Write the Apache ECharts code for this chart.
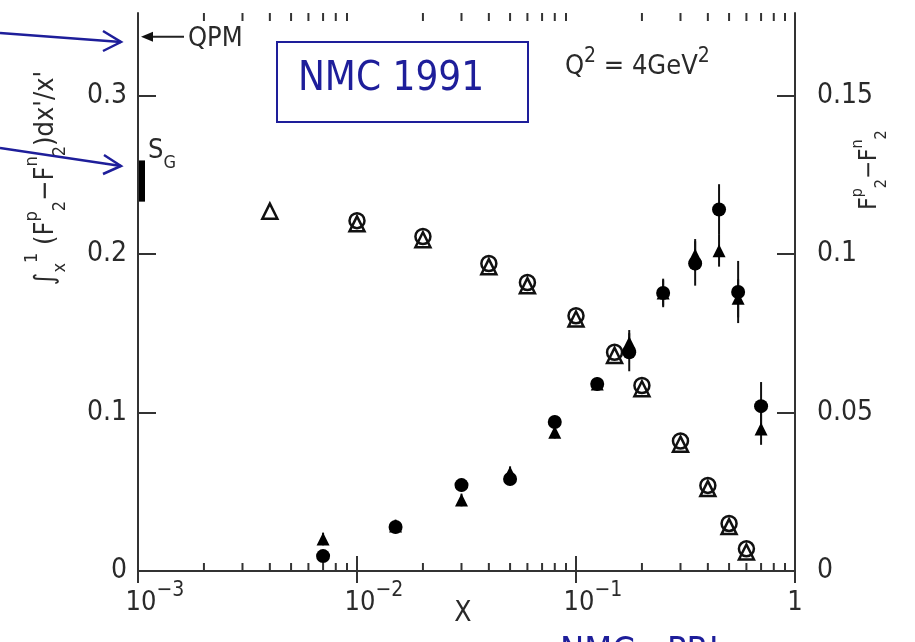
<!DOCTYPE html>
<html><head><meta charset="utf-8">
<script src="https://cdn.jsdelivr.net/npm/echarts@6/dist/echarts.min.js"></script>
<style>html,body{margin:0;padding:0;background:#fff}#c{width:915px;height:642px}</style>
</head><body><div id="c"></div>
<script>
// ---- data ----
// integral of (F2p-F2n)/x' from x to 1 (left axis), at bin edges
const xEdges = [0.004, 0.01, 0.02, 0.04, 0.06, 0.1, 0.15, 0.2, 0.3, 0.4, 0.5, 0.6];
const integralCircle = [null, 0.221, 0.211, 0.194, 0.182, 0.161, 0.138, 0.117, 0.082, 0.054, 0.030, 0.014];
const integralTriangle = [0.227, 0.219, 0.209, 0.192, 0.180, 0.159, 0.136, 0.115, 0.080, 0.052, 0.028, 0.012];
// F2p - F2n (right axis), at bin centres
const xCenters = [0.007, 0.015, 0.03, 0.05, 0.08, 0.125, 0.175, 0.25, 0.35, 0.45, 0.55, 0.7];
const diffCircle = [0.0047, 0.0139, 0.0271, 0.0290, 0.0470, 0.0590, 0.0690, 0.0877, 0.0970, 0.1140, 0.0880, 0.0520];
const diffCircleErr = [0.0020, 0.0020, 0.0020, 0.0020, 0.0020, 0.0020, 0.0060, 0.0045, 0.0070, 0.0080, 0.0098, 0.0076];
const diffTriangle = [0.0101, 0.0142, 0.0224, 0.0310, 0.0438, 0.0590, 0.0720, 0.0877, 0.0997, 0.1010, 0.0860, 0.0448];
const diffTriangleErr = [0.0020, 0.0020, 0.0020, 0.0020, 0.0020, 0.0020, 0.0040, 0.0040, 0.0050, 0.0050, 0.0060, 0.0050];
// axes
const xTickLabels = {'-3': '{b|10}{s|−3}', '-2': '{b|10}{s|−2}', '-1': '{b|10}{s|−1}', '0': '{c|1}'};
const leftTicks = [0, 0.1, 0.2, 0.3];
const rightTicks = [0, 0.05, 0.1, 0.15];
const leftMax = 0.352, rightMax = 0.176;
// reference marks on the left axis
const qpmValue = 0.337;
const sgValue = 0.246, sgErr = 0.013;

const SCAN = "'Liberation Sans Narrow', 'DejaVu Sans Condensed', 'Liberation Sans', sans-serif";
const INK = '#2a2a2a';
const BLUE = '#1e1e9a';

const minorTicks = [];
for (let e = -3; e < 0; e++) for (let k = 2; k <= 9; k++) minorTicks.push([k * Math.pow(10, e)]);

const zip = (xs, ys) => xs.map((x, i) => [x, ys[i]]).filter(d => d[1] != null);
const zipErr = (xs, ys, es) => xs.map((x, i) => [x, ys[i], es[i]]);

function errRender(params, api) {
  const x = api.value(0), y = api.value(1), e = api.value(2);
  const a = api.coord([x, y + e]), b = api.coord([x, y - e]);
  return {type: 'line', shape: {x1: a[0], y1: a[1], x2: b[0], y2: b[1]},
          style: {stroke: '#111', lineWidth: 2}};
}

const chart = echarts.init(document.getElementById('c'), null, {renderer: 'canvas'});
const axisLineStyle = {color: '#333', width: 2};
chart.setOption({
  animation: false,
  backgroundColor: '#fff',
  grid: {left: 138, right: 120, top: 13, bottom: 71},
  xAxis: [
    {type: 'log', logBase: 10, min: 0.001, max: 1, position: 'bottom',
     axisLine: {lineStyle: axisLineStyle}, splitLine: {show: false},
     axisTick: {inside: true, length: 15, lineStyle: {color: '#333', width: 2}},
     axisLabel: {margin: 9, color: INK, fontFamily: SCAN,
       formatter: v => xTickLabels[String(Math.round(Math.log10(v)))] || '',
       rich: {b: {fontSize: 27, lineHeight: 36, verticalAlign: 'bottom', fontFamily: SCAN, color: INK, padding: [0, 0, 0, 34]},
              c: {fontSize: 27, lineHeight: 36, verticalAlign: 'bottom', fontFamily: SCAN, color: INK},
              s: {fontSize: 21, lineHeight: 36, verticalAlign: 'top', fontFamily: SCAN, color: INK}}}},
    {type: 'log', logBase: 10, min: 0.001, max: 1, position: 'top',
     axisLine: {lineStyle: axisLineStyle}, splitLine: {show: false},
     axisTick: {inside: true, length: 12, lineStyle: {color: '#333', width: 2}},
     axisLabel: {show: false}}
  ],
  yAxis: [
    {type: 'value', min: 0, max: leftMax, position: 'left',
     axisLine: {show: true, lineStyle: axisLineStyle}, splitLine: {show: false},
     axisTick: {inside: true, length: 18, customValues: leftTicks.slice(1), lineStyle: {color: '#333', width: 2}},
     axisLabel: {margin: 11, customValues: leftTicks, color: INK, fontFamily: SCAN, fontSize: 28}},
    {type: 'value', min: 0, max: rightMax, position: 'right',
     axisLine: {show: true, lineStyle: axisLineStyle}, splitLine: {show: false},
     axisTick: {inside: true, length: 18, customValues: rightTicks.slice(1), lineStyle: {color: '#333', width: 2}},
     axisLabel: {margin: 22, customValues: rightTicks, color: INK, fontFamily: SCAN, fontSize: 28}}
  ],
  series: [
    {type: 'custom', name: 'minor ticks', xAxisIndex: 0, yAxisIndex: 0, silent: true,
     data: minorTicks, encode: {x: 0},
     renderItem: (params, api) => {
       const v = api.value(0);
       const b = api.coord([v, 0]), t = api.coord([v, leftMax]);
       return {type: 'group', children: [
         {type: 'line', shape: {x1: b[0], y1: b[1], x2: b[0], y2: b[1] - 8}, style: {stroke: '#333', lineWidth: 2}},
         {type: 'line', shape: {x1: t[0], y1: t[1], x2: t[0], y2: t[1] + 8}, style: {stroke: '#333', lineWidth: 2}}
       ]};
     }},
    {type: 'custom', name: 'SG', yAxisIndex: 0, silent: true,
     data: [[0.001, sgValue, sgErr]],
     renderItem: (params, api) => {
       const v = api.value(1), e = api.value(2);
       const a = api.coord([0.001, v + e]), b = api.coord([0.001, v - e]);
       return {type: 'group', children: [
         {type: 'rect', shape: {x: a[0] + 1, y: a[1], width: 6, height: b[1] - a[1]}, style: {fill: '#000'}},
         {type: 'text', x: a[0] + 10, y: a[1] - 30,
          style: {text: 'S{g|G}', fontFamily: SCAN, fontSize: 27, fill: INK,
                  rich: {g: {fontSize: 18, fontFamily: SCAN, fill: INK, verticalAlign: 'bottom', lineHeight: 42}}}}
       ]};
     }},
    {type: 'custom', name: 'QPM', yAxisIndex: 0, silent: true,
     data: [[0.001, qpmValue]],
     renderItem: (params, api) => {
       const p = api.coord([0.001, api.value(1)]);
       return {type: 'group', children: [
         {type: 'line', shape: {x1: p[0] + 12, y1: p[1], x2: p[0] + 46, y2: p[1]}, style: {stroke: '#222', lineWidth: 2}},
         {type: 'polygon', shape: {points: [[p[0] + 3, p[1]], [p[0] + 15, p[1] - 5], [p[0] + 15, p[1] + 5]]}, style: {fill: '#111'}},
         {type: 'text', x: p[0] + 50, y: p[1] + 2,
          style: {text: 'QPM', fontFamily: SCAN, fontSize: 27, fill: INK, verticalAlign: 'middle'}}
       ]};
     }},
    {type: 'custom', name: 'circle errors', xAxisIndex: 0, yAxisIndex: 1, silent: true,
     data: zipErr(xCenters, diffCircle, diffCircleErr), renderItem: errRender},
    {type: 'custom', name: 'triangle errors', xAxisIndex: 0, yAxisIndex: 1, silent: true,
     data: zipErr(xCenters, diffTriangle, diffTriangleErr), renderItem: errRender},
    {type: 'scatter', name: 'integral triangle', yAxisIndex: 0, data: zip(xEdges, integralTriangle),
     symbol: 'triangle', symbolSize: 15,
     itemStyle: {color: 'transparent', borderColor: '#111', borderWidth: 2.5, opacity: 1}},
    {type: 'scatter', name: 'integral circle', yAxisIndex: 0, data: zip(xEdges, integralCircle),
     symbol: 'circle', symbolSize: 15,
     itemStyle: {color: 'transparent', borderColor: '#111', borderWidth: 2.5, opacity: 1}},
    {type: 'scatter', name: 'diff triangle', yAxisIndex: 1, data: zip(xCenters, diffTriangle),
     symbol: 'triangle', symbolSize: 13, itemStyle: {color: '#000', opacity: 1}},
    {type: 'scatter', name: 'diff circle', yAxisIndex: 1, data: zip(xCenters, diffCircle),
     symbol: 'circle', symbolSize: 14, itemStyle: {color: '#000', opacity: 1}}
  ],
  graphic: [
    {type: 'rect', shape: {x: 277, y: 42, width: 251, height: 80}, style: {fill: '#fff', stroke: BLUE, lineWidth: 2}, z: 10},
    {type: 'text', x: 391, y: 80, z: 11,
     style: {text: 'NMC 1991', fontFamily: "'DejaVu Sans Condensed', 'Liberation Sans', sans-serif", fontSize: 40, fill: BLUE, align: 'center', verticalAlign: 'middle'}},
    {type: 'text', x: 565, y: 88, z: 11,
     style: {text: 'Q{s|2} = 4GeV{s|2}', fontFamily: SCAN, fontSize: 27, fill: INK, verticalAlign: 'bottom',
             rich: {s: {fontSize: 21, fontFamily: SCAN, fill: INK, verticalAlign: 'top', lineHeight: 42}}}},
    // blue arrows
    {type: 'polyline', shape: {points: [[0, 33], [121, 42]]}, style: {stroke: BLUE, lineWidth: 2.5, fill: null}},
    {type: 'polyline', shape: {points: [[103, 31], [121, 42], [103, 51]]}, style: {stroke: BLUE, lineWidth: 2.5, fill: null}},
    {type: 'polyline', shape: {points: [[0, 148], [121, 166]]}, style: {stroke: BLUE, lineWidth: 2.5, fill: null}},
    {type: 'polyline', shape: {points: [[104, 155], [121, 166], [103, 174]]}, style: {stroke: BLUE, lineWidth: 2.5, fill: null}},
    // axis names
    {type: 'text', x: 46, y: 178, rotation: Math.PI / 2,
     style: {text: '∫{sub|x}{sup|1} (F{sup|p}{sub|2}−F{sup|n}{sub|2})dx\'/x\'', fontFamily: SCAN, fontSize: 27, fill: INK,
             align: 'center', verticalAlign: 'middle',
             rich: {sup: {fontSize: 18, fontFamily: SCAN, fill: INK, verticalAlign: 'top', lineHeight: 46},
                    sub: {fontSize: 18, fontFamily: SCAN, fill: INK, verticalAlign: 'bottom', lineHeight: 46}}}},
    {type: 'text', x: 870, y: 170, rotation: Math.PI / 2,
     style: {text: 'F{sup|p}{sub|2}−F{sup|n}{sub|2}', fontFamily: SCAN, fontSize: 24, fill: INK,
             align: 'center', verticalAlign: 'middle',
             rich: {sup: {fontSize: 16, fontFamily: SCAN, fill: INK, verticalAlign: 'top', lineHeight: 40},
                    sub: {fontSize: 16, fontFamily: SCAN, fill: INK, verticalAlign: 'bottom', lineHeight: 40}}}},
    {type: 'text', x: 463, y: 614,
     style: {text: 'X', fontFamily: SCAN, fontSize: 28, fill: INK, align: 'center', verticalAlign: 'middle'}},
    {type: 'text', x: 560, y: 635,
     style: {text: 'NMC - PRL', fontFamily: "'DejaVu Sans Condensed', 'Liberation Sans', sans-serif", fontSize: 36, fill: BLUE, verticalAlign: 'top'}}
  ]
});
</script></body></html>
